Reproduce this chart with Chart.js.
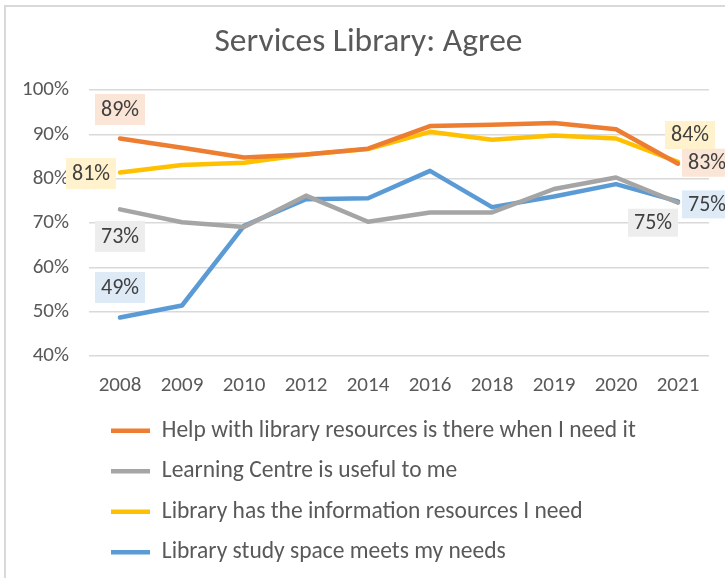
<!DOCTYPE html>
<html>
<head>
<meta charset="utf-8">
<script src="https://cdn.jsdelivr.net/npm/chart.js@4/dist/chart.umd.min.js"></script>
<style>
  html, body { margin: 0; padding: 0; background: #fff; overflow: hidden; }
  #wrap { position: relative; width: 725px; height: 578px; }
  #frame { position: absolute; left: 4px; top: 5px; width: 900px; height: 900px;
           border-left: 2px solid #d9d9d9; border-top: 2px solid #d9d9d9; box-sizing: border-box; }
  canvas { position: absolute; left: 0; top: 0; }
</style>
</head>
<body>
<div id="wrap">
  <div id="frame"></div>
  <canvas id="c" width="725" height="578"></canvas>
</div>
<script>
// ---- Data ----
const years = ['2008', '2009', '2010', '2012', '2014', '2016', '2018', '2019', '2020', '2021'];

const helpResources = [89.1, 87.0, 84.8, 85.5, 86.8, 91.9, 92.2, 92.6, 91.2, 83.4];
const learningCentre = [73.1, 70.2, 69.1, 76.2, 70.3, 72.4, 72.4, 77.7, 80.3, 74.6];
const infoResources = [81.4, 83.1, 83.6, 85.5, 86.7, 90.6, 88.8, 89.8, 89.1, 83.8];
const studySpace = [48.7, 51.4, 69.4, 75.4, 75.6, 81.8, 73.6, 76.0, 78.8, 74.9];

const seriesNames = [
  'Help with library resources is there when I need it',
  'Learning Centre is useful to me',
  'Library has the information resources I need',
  'Library study space meets my needs'
];
const yTicks = [40, 50, 60, 70, 80, 90, 100];

// ---- Styling ----
const FONT = "Carlito, Lato, 'Liberation Sans', sans-serif";
const colors = ['#ED7D31', '#A5A5A5', '#FFC000', '#5B9BD5'];
const labelBg = ['#FBE5D6', '#EDEDED', '#FFF2CC', '#DEEBF7'];
// label offsets (dx, dy) relative to first / last point of each series
const labelOffsets = [
  { first: [0, -29], last: [29, -1] },
  { first: [0, 27], last: [-25, 20] },
  { first: [-29, 1], last: [12, -27] },
  { first: [0, -30], last: [29, 3] }
];
const TITLE_SHIFT = 14;   // title sits a little right of canvas centre
const LEGEND_SHIFT = 5;   // legend block starts a little right of plot edge

const seriesData = [helpResources, learningCentre, infoResources, studySpace];

const endLabels = {
  id: 'endLabels',
  afterLayout(chart) {
    if (chart.titleBlock) { chart.titleBlock.left += TITLE_SHIFT; chart.titleBlock.right += TITLE_SHIFT; }
    if (chart.legend) { chart.legend.left += LEGEND_SHIFT; chart.legend.right += LEGEND_SHIFT; }
  },
  afterDatasetsDraw(chart) {
    const ctx = chart.ctx;
    ctx.save();
    ctx.font = '22px ' + FONT;
    ctx.textAlign = 'center';
    ctx.textBaseline = 'middle';
    chart.data.datasets.forEach((ds, di) => {
      const meta = chart.getDatasetMeta(di);
      const n = ds.data.length;
      [['first', 0], ['last', n - 1]].forEach(([key, idx]) => {
        const pt = meta.data[idx];
        const off = labelOffsets[di][key];
        const txt = Math.round(ds.data[idx]) + '%';
        const cx = pt.x + off[0];
        const cy = pt.y + off[1];
        const w = ctx.measureText(txt).width + 12;
        const h = key === 'first' ? 31 : 28;
        ctx.fillStyle = labelBg[di];
        ctx.fillRect(cx - w / 2, cy - h / 2, w, h);
        ctx.fillStyle = '#404040';
        ctx.fillText(txt, cx, cy + 1);
      });
    });
    ctx.restore();
  }
};

new Chart(document.getElementById('c'), {
  type: 'line',
  data: {
    labels: years,
    datasets: seriesData.map((d, i) => ({
      label: seriesNames[i],
      data: d,
      borderColor: colors[i],
      backgroundColor: colors[i],
      borderWidth: 4.5,
      borderCapStyle: 'round',
      borderJoinStyle: 'round',
      pointRadius: 0,
      pointHoverRadius: 0,
      tension: 0,
      fill: false
    }))
  },
  options: {
    responsive: false,
    animation: false,
    devicePixelRatio: 1,
    layout: { padding: { left: 0, right: 16, top: 0, bottom: 4 } },
    plugins: {
      title: {
        display: true,
        text: 'Services Library: Agree',
        color: '#595959',
        font: { family: FONT, size: 33.5, weight: 'normal' },
        padding: { top: 23, bottom: 27 }
      },
      legend: {
        position: 'bottom',
        align: 'start',
        fullSize: false,
        labels: {
          usePointStyle: true,
          pointStyle: 'line',
          pointStyleWidth: 39,
          padding: 17,
          color: '#595959',
          font: { family: FONT, size: 23.5 }
        }
      },
      tooltip: { enabled: false }
    },
    scales: {
      x: {
        offset: true,
        grid: { display: false, drawTicks: false },
        border: { display: false },
        ticks: { color: '#595959', font: { family: FONT, size: 21 }, padding: 17, maxRotation: 0 },
        afterFit(scale) { scale.height = 46; }
      },
      y: {
        min: yTicks[0],
        max: yTicks[yTicks.length - 1],
        afterBuildTicks(scale) { scale.ticks = yTicks.map(v => ({ value: v })); },
        grid: { color: '#D9D9D9', lineWidth: 1.5, drawTicks: false },
        border: { display: false },
        ticks: { color: '#595959', font: { family: FONT, size: 21 }, padding: 20,
                 callback: v => v + '%' },
        afterFit(scale) { scale.width = 89; }
      }
    }
  },
  plugins: [endLabels]
});
</script>
</body>
</html>
